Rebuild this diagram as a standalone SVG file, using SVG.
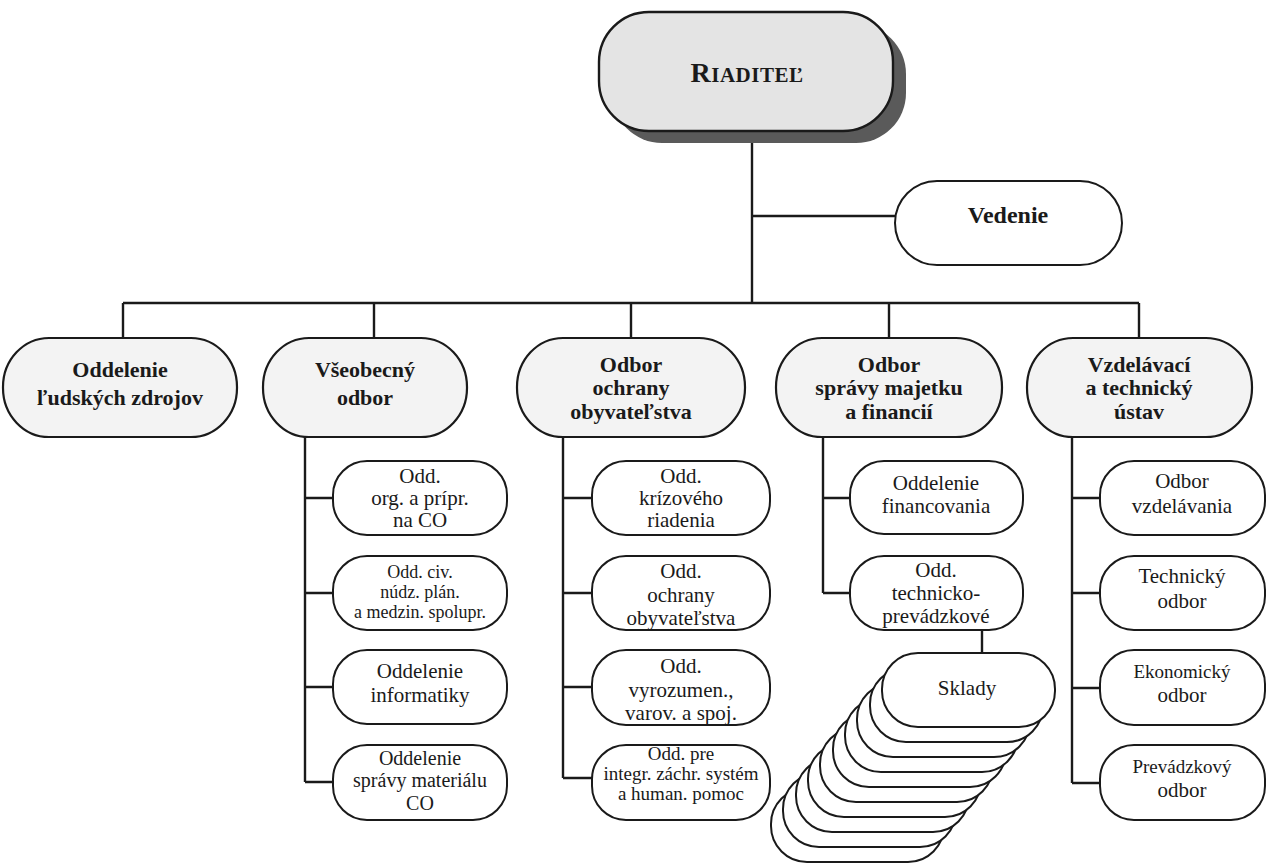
<svg xmlns="http://www.w3.org/2000/svg" width="1267" height="863" viewBox="0 0 1267 863">
<defs>
<style>
.bg{fill:#ffffff}
.top{fill:#f3f3f3;stroke:#1a1a1a;stroke-width:2.2}
.sub{fill:#ffffff;stroke:#1a1a1a;stroke-width:2}
.ln{fill:none;stroke:#1a1a1a;stroke-width:2.4}
text{font-family:'Liberation Serif','Times New Roman','DejaVu Serif',serif;fill:#1a1a1a;text-anchor:middle}
.tb{font-weight:bold;font-size:22px}
.tr{font-size:21px}
.ts{font-size:18px}
.t19{font-size:19px}
</style>
</defs>
<rect class="bg" x="0" y="0" width="1267" height="863"/>

<g id="connectors">
<path class="ln" d="M752 143V303M752 216H895M123 303H1139M123 303V338M374 303V338M631 303V338M889 303V338M1139 303V338"/>
<path class="ln" d="M305 437V782M305 498H333M305 593H333M305 687H333M305 782H333"/>
<path class="ln" d="M563 437V778M563 498H592M563 593H592M563 687H592M563 778H592"/>
<path class="ln" d="M823 437V593M823 498H850M823 593H850M982 630V653"/>
<path class="ln" d="M1072 437V783M1072 498H1100M1072 593H1100M1072 688H1100M1072 783H1100"/>
</g>

<g id="riaditel">
<rect x="612" y="24" width="294" height="119" rx="50" ry="50" fill="#5a5a5a"/>
<rect x="599" y="12" width="294" height="119" rx="50" ry="50" fill="#e4e4e4" stroke="#1a1a1a" stroke-width="2.4"/>
<text class="tb" x="747" y="82" font-family="Liberation Serif" style="font-size:21px;letter-spacing:0.5px"><tspan style="font-size:28px">R</tspan>IADITEĽ</text>
</g>

<g id="vedenie">
<rect class="sub" x="895" y="181" width="227" height="84" rx="42" ry="42"/>
<text class="tb" x="1008" y="223" style="font-size:24px">Vedenie</text>
</g>

<g id="ludske-zdroje">
<rect class="top" x="3" y="338" width="234" height="99" rx="46" ry="49"/>
<text class="tb" x="120" y="377">Oddelenie</text>
<text class="tb" x="120" y="405">ľudských zdrojov</text>
</g>

<g id="vseobecny">
<rect class="top" x="263" y="338" width="204" height="99" rx="46" ry="49"/>
<text class="tb" x="365" y="377">Všeobecný</text>
<text class="tb" x="365" y="405">odbor</text>
</g>

<g id="ochrana">
<rect class="top" x="517" y="338" width="228" height="99" rx="46" ry="49"/>
<text class="tb" x="631" y="372">Odbor</text>
<text class="tb" x="631" y="395">ochrany</text>
<text class="tb" x="631" y="419">obyvateľstva</text>
</g>

<g id="sprava">
<rect class="top" x="776" y="338" width="226" height="99" rx="46" ry="49"/>
<text class="tb" x="889" y="372">Odbor</text>
<text class="tb" x="889" y="395">správy majetku</text>
<text class="tb" x="889" y="419">a financií</text>
</g>

<g id="vzdelavaci">
<rect class="top" x="1027" y="338" width="225" height="99" rx="46" ry="49"/>
<text class="tb" x="1139" y="372">Vzdelávací</text>
<text class="tb" x="1139" y="395">a technický</text>
<text class="tb" x="1139" y="419">ústav</text>
</g>

<g id="odd-org">
<rect class="sub" x="333" y="461" width="174" height="74" rx="34" ry="34"/>
<text class="tr" x="420" y="483">Odd.</text>
<text class="tr" x="420" y="505">org. a prípr.</text>
<text class="tr" x="420" y="527">na CO</text>
</g>
<g id="odd-civ">
<rect class="sub" x="333" y="556" width="174" height="74" rx="34" ry="34"/>
<text class="tr ts" x="420" y="578">Odd. civ.</text>
<text class="tr ts" x="420" y="598">núdz. plán.</text>
<text class="tr ts" x="420" y="618">a medzin. spolupr.</text>
</g>
<g id="odd-informatiky">
<rect class="sub" x="333" y="650" width="174" height="74" rx="34" ry="34"/>
<text class="tr" x="420" y="678">Oddelenie</text>
<text class="tr" x="420" y="702">informatiky</text>
</g>
<g id="odd-materialu">
<rect class="sub" x="333" y="745" width="174" height="75" rx="34" ry="34"/>
<text class="tr" x="420" y="765" style="font-size:20px">Oddelenie</text>
<text class="tr" x="420" y="787" style="font-size:20px">správy materiálu</text>
<text class="tr" x="420" y="810" style="font-size:20px">CO</text>
</g>

<g id="odd-krizove">
<rect class="sub" x="592" y="461" width="178" height="74" rx="34" ry="34"/>
<text class="tr" x="681" y="483">Odd.</text>
<text class="tr" x="681" y="505">krízového</text>
<text class="tr" x="681" y="527">riadenia</text>
</g>
<g id="odd-ochrany">
<rect class="sub" x="592" y="556" width="178" height="74" rx="34" ry="34"/>
<text class="tr" x="681" y="578">Odd.</text>
<text class="tr" x="681" y="602">ochrany</text>
<text class="tr" x="681" y="625">obyvateľstva</text>
</g>
<g id="odd-vyrozumenia">
<rect class="sub" x="592" y="650" width="178" height="75" rx="34" ry="34"/>
<text class="tr" x="681" y="673">Odd.</text>
<text class="tr" x="681" y="697">vyrozumen.,</text>
<text class="tr" x="681" y="720">varov. a spoj.</text>
</g>
<g id="odd-izs">
<rect class="sub" x="592" y="745" width="178" height="75" rx="34" ry="34"/>
<text class="tr t19" x="681" y="760">Odd. pre</text>
<text class="tr t19" x="681" y="780">integr. záchr. systém</text>
<text class="tr t19" x="681" y="800">a human. pomoc</text>
</g>

<g id="odd-financovania">
<rect class="sub" x="850" y="461" width="173" height="73" rx="34" ry="34"/>
<text class="tr" x="936" y="490">Oddelenie</text>
<text class="tr" x="936" y="513">financovania</text>
</g>
<g id="odd-technicko">
<rect class="sub" x="850" y="556" width="173" height="74" rx="34" ry="34"/>
<text class="tr" x="936" y="577">Odd.</text>
<text class="tr" x="936" y="600">technicko-</text>
<text class="tr" x="936" y="623">prevádzkové</text>
</g>

<g id="sklady">
<rect class="sub" x="771" y="788" width="173" height="74" rx="36" ry="36"/>
<rect class="sub" x="783" y="773" width="173" height="74" rx="36" ry="36"/>
<rect class="sub" x="796" y="758" width="173" height="74" rx="36" ry="36"/>
<rect class="sub" x="808" y="743" width="173" height="74" rx="36" ry="36"/>
<rect class="sub" x="820" y="728" width="173" height="74" rx="36" ry="36"/>
<rect class="sub" x="833" y="713" width="173" height="74" rx="36" ry="36"/>
<rect class="sub" x="845" y="698" width="173" height="74" rx="36" ry="36"/>
<rect class="sub" x="857" y="683" width="173" height="74" rx="36" ry="36"/>
<rect class="sub" x="870" y="668" width="173" height="74" rx="36" ry="36"/>
<rect class="sub" x="882" y="653" width="173" height="74" rx="36" ry="36"/>
<text class="tr" x="967" y="695">Sklady</text>
</g>

<g id="odbor-vzdelavania">
<rect class="sub" x="1100" y="461" width="165" height="74" rx="34" ry="34"/>
<text class="tr" x="1182" y="488">Odbor</text>
<text class="tr" x="1182" y="513">vzdelávania</text>
</g>
<g id="technicky-odbor">
<rect class="sub" x="1100" y="556" width="165" height="74" rx="34" ry="34"/>
<text class="tr" x="1182" y="583">Technický</text>
<text class="tr" x="1182" y="608">odbor</text>
</g>
<g id="ekonomicky-odbor">
<rect class="sub" x="1100" y="650" width="165" height="75" rx="34" ry="34"/>
<text class="tr t19" x="1182" y="678">Ekonomický</text>
<text class="tr" x="1182" y="702">odbor</text>
</g>
<g id="prevadzkovy-odbor">
<rect class="sub" x="1100" y="745" width="165" height="75" rx="34" ry="34"/>
<text class="tr t19" x="1182" y="773">Prevádzkový</text>
<text class="tr" x="1182" y="797">odbor</text>
</g>
</svg>
